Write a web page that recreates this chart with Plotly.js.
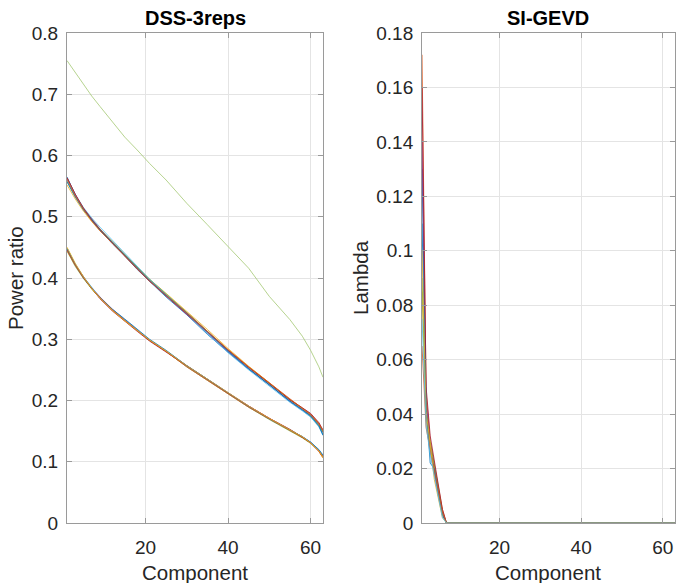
<!DOCTYPE html>
<html><head><meta charset="utf-8">
<script src="https://cdn.plot.ly/plotly-3.0.1.min.js"></script>
<style>html,body{margin:0;padding:0;background:#fff}#chart{width:685px;height:583px}</style>
</head><body><div id="chart"></div><script>
// ---- data ----
const compLeft = [1,2,3,5,7,9,12,15,18,21,25,30,35,40,45,50,55,58,60,62,63];

const upper1 = [0.565,0.550,0.536,0.512,0.494,0.478,0.456,0.436,0.414,0.394,0.369,0.340,0.308,0.279,0.251,0.226,0.198,0.184,0.174,0.158,0.143];
const upper2 = [0.560,0.547,0.535,0.514,0.496,0.480,0.459,0.438,0.417,0.397,0.373,0.344,0.313,0.283,0.255,0.229,0.202,0.188,0.178,0.163,0.150];
const upper3 = [0.552,0.540,0.529,0.509,0.492,0.477,0.457,0.437,0.417,0.398,0.375,0.346,0.316,0.285,0.256,0.229,0.201,0.186,0.175,0.159,0.147];
const upper4 = [0.563,0.549,0.536,0.513,0.495,0.479,0.457,0.436,0.415,0.395,0.371,0.341,0.310,0.280,0.252,0.226,0.199,0.185,0.176,0.161,0.148];
const upper5 = [0.558,0.545,0.533,0.512,0.494,0.479,0.459,0.439,0.418,0.398,0.374,0.343,0.312,0.282,0.254,0.228,0.201,0.187,0.177,0.161,0.149];
const upper6 = [0.561,0.548,0.536,0.515,0.498,0.483,0.462,0.441,0.419,0.398,0.373,0.342,0.309,0.278,0.250,0.224,0.197,0.183,0.173,0.157,0.145];
const upper7 = [0.564,0.550,0.537,0.514,0.495,0.479,0.457,0.436,0.415,0.395,0.371,0.342,0.312,0.282,0.254,0.228,0.201,0.188,0.179,0.164,0.152];
const upper8 = [0.557,0.544,0.532,0.511,0.494,0.478,0.458,0.437,0.416,0.396,0.372,0.343,0.312,0.281,0.252,0.226,0.199,0.185,0.175,0.159,0.144];
const upper9 = [0.562,0.548,0.534,0.512,0.493,0.477,0.456,0.435,0.415,0.395,0.372,0.343,0.313,0.283,0.255,0.229,0.202,0.187,0.177,0.162,0.151];

const lower1 = [0.450,0.436,0.423,0.401,0.382,0.367,0.347,0.330,0.314,0.298,0.280,0.256,0.234,0.212,0.190,0.170,0.152,0.140,0.131,0.117,0.106];
const lower2 = [0.446,0.434,0.422,0.402,0.384,0.369,0.349,0.332,0.316,0.299,0.281,0.257,0.235,0.213,0.191,0.171,0.153,0.141,0.132,0.119,0.109];
const lower3 = [0.444,0.431,0.419,0.399,0.382,0.367,0.348,0.331,0.315,0.298,0.280,0.255,0.233,0.211,0.189,0.169,0.151,0.139,0.130,0.118,0.108];
const lower4 = [0.449,0.436,0.423,0.402,0.384,0.368,0.348,0.331,0.315,0.299,0.281,0.256,0.234,0.212,0.190,0.170,0.152,0.141,0.132,0.119,0.110];
const lower5 = [0.447,0.434,0.421,0.400,0.382,0.366,0.346,0.329,0.313,0.297,0.279,0.256,0.234,0.212,0.191,0.171,0.153,0.140,0.131,0.117,0.107];
const lower6 = [0.448,0.435,0.422,0.401,0.383,0.368,0.349,0.333,0.317,0.300,0.282,0.257,0.235,0.213,0.190,0.170,0.152,0.141,0.132,0.120,0.111];
const lower7 = [0.445,0.433,0.421,0.401,0.383,0.368,0.348,0.331,0.315,0.298,0.280,0.255,0.233,0.211,0.189,0.170,0.152,0.140,0.131,0.118,0.108];
const lower8 = [0.450,0.437,0.424,0.402,0.383,0.367,0.347,0.330,0.314,0.299,0.281,0.257,0.235,0.213,0.191,0.171,0.153,0.141,0.131,0.118,0.107];

const outlier = [0.755,0.745,0.737,0.716,0.697,0.680,0.655,0.630,0.609,0.587,0.560,0.522,0.487,0.452,0.416,0.370,0.332,0.305,0.282,0.255,0.238];

const compRight = [1,2,3,4,5,6,7,63];
const lambda1  = [0.130,0.042,0.028,0.020,0.012,0.004,0,0];
const lambda2  = [0.172,0.048,0.030,0.022,0.013,0.005,0,0];
const lambda3  = [0.085,0.038,0.026,0.019,0.011,0.003,0,0];
const lambda4  = [0.140,0.045,0.027,0.018,0.010,0.003,0,0];
const lambda5  = [0.090,0.040,0.030,0.021,0.012,0.004,0,0];
const lambda6  = [0.160,0.050,0.032,0.023,0.014,0.005,0,0];
const lambda7  = [0.110,0.043,0.022,0.020,0.011,0.003,0,0];
const lambda8  = [0.065,0.035,0.027,0.019,0.012,0.004,0,0];
const lambda9  = [0.100,0.041,0.029,0.016,0.009,0.002,0,0];
const lambda10 = [0.075,0.036,0.025,0.017,0.010,0.002,0,0];

const xTicks = [20,40,60];
const yTicksLeft = [0,0.1,0.2,0.3,0.4,0.5,0.6,0.7,0.8];
const yTicksRight = [0,0.02,0.04,0.06,0.08,0.1,0.12,0.14,0.16,0.18];

// ---- style ----
const palette = ['#0072BD','#D95319','#EDB120','#7E2F8E','#77AC30','#4DBEEE','#A2142F'];
const LW = 0.8;
const traces = [];
const upperSet = [upper1,upper2,upper3,upper4,upper5,upper6,upper7,upper8,upper9];
const lowerSet = [lower1,lower2,lower3,lower4,lower5,lower6,lower7,lower8];
lowerSet.forEach((v,i)=>traces.push({x:compLeft,y:v,type:'scatter',mode:'lines',xaxis:'x',yaxis:'y',
  line:{color:palette[(i+2)%7],width:LW},hoverinfo:'skip',showlegend:false}));
upperSet.forEach((v,i)=>traces.push({x:compLeft,y:v,type:'scatter',mode:'lines',xaxis:'x',yaxis:'y',
  line:{color:palette[i%7],width:LW},hoverinfo:'skip',showlegend:false}));
traces.push({x:compLeft,y:outlier,type:'scatter',mode:'lines',xaxis:'x',yaxis:'y',
  line:{color:'#a3c872',width:LW},hoverinfo:'skip',showlegend:false});
const rightSet = [lambda1,lambda2,lambda3,lambda4,lambda5,lambda6,lambda7,lambda8,lambda9,lambda10];
const rightColors = ['#0072BD','#D95319','#EDB120','#7E2F8E','#77AC30','#A2142F','#0072BD','#D95319','#EDB120','#4DBEEE'];
rightSet.forEach((v,i)=>traces.push({x:compRight,y:v,type:'scatter',mode:'lines',xaxis:'x2',yaxis:'y2',
  line:{color:rightColors[i],width:LW},hoverinfo:'skip',showlegend:false}));

const FONT = '"Liberation Sans", Arial, Helvetica, sans-serif';
const axisColor = '#9a9a9a';
const gridColor = '#e4e4e4';
function xAxis(domain, anchor){
  return {domain:domain, anchor:anchor, range:[1,63], tickvals:xTicks, ticktext:xTicks.map(String),
    showgrid:true, gridcolor:gridColor, gridwidth:1, zeroline:false,
    showline:true, linecolor:axisColor, linewidth:1, mirror:'ticks',
    ticks:'inside', ticklen:5, tickcolor:axisColor, ticklabelstandoff:7,
    tickfont:{family:FONT,size:19,color:'#262626'}};
}
function yAxis(anchor, range, vals){
  return {domain:[0.1029,0.9434], anchor:anchor, range:range, tickvals:vals, ticktext:vals.map(String),
    showgrid:true, gridcolor:gridColor, gridwidth:1, zeroline:false,
    showline:true, linecolor:axisColor, linewidth:1, mirror:'ticks',
    ticks:'inside', ticklen:5, tickcolor:axisColor, ticklabelstandoff:4,
    tickfont:{family:FONT,size:19,color:'#262626'}};
}
const layout = {
  width:685, height:583, margin:{l:0,r:0,t:0,b:0},
  paper_bgcolor:'#ffffff', plot_bgcolor:'#ffffff', showlegend:false,
  xaxis: xAxis([0.0978,0.4715],'y'),
  yaxis: yAxis('x',[0,0.8],yTicksLeft),
  xaxis2: xAxis([0.6161,0.9854],'y2'),
  yaxis2: yAxis('x2',[0,0.18],yTicksRight),
  annotations:[
    {text:'<b>DSS-3reps</b>', xref:'paper', yref:'paper', x:0.2847, y:1-18/583, xanchor:'center', yanchor:'middle', showarrow:false, font:{family:FONT,size:20,color:'#000'}},
    {text:'<b>SI-GEVD</b>', xref:'paper', yref:'paper', x:0.8007, y:1-18/583, xanchor:'center', yanchor:'middle', showarrow:false, font:{family:FONT,size:20,color:'#000'}},
    {text:'Component', xref:'paper', yref:'paper', x:0.2847, y:1-572/583, xanchor:'center', yanchor:'middle', showarrow:false, font:{family:FONT,size:20.5,color:'#262626'}},
    {text:'Component', xref:'paper', yref:'paper', x:0.8007, y:1-572/583, xanchor:'center', yanchor:'middle', showarrow:false, font:{family:FONT,size:20.5,color:'#262626'}},
    {text:'Power ratio', xref:'paper', yref:'paper', x:15/685, y:1-278/583, xanchor:'center', yanchor:'middle', textangle:-90, showarrow:false, font:{family:FONT,size:20.5,color:'#262626'}},
    {text:'Lambda', xref:'paper', yref:'paper', x:360/685, y:1-278/583, xanchor:'center', yanchor:'middle', textangle:-90, showarrow:false, font:{family:FONT,size:20.5,color:'#262626'}}
  ]
};
Plotly.newPlot('chart', traces, layout, {staticPlot:true, displayModeBar:false});
</script></body></html>
